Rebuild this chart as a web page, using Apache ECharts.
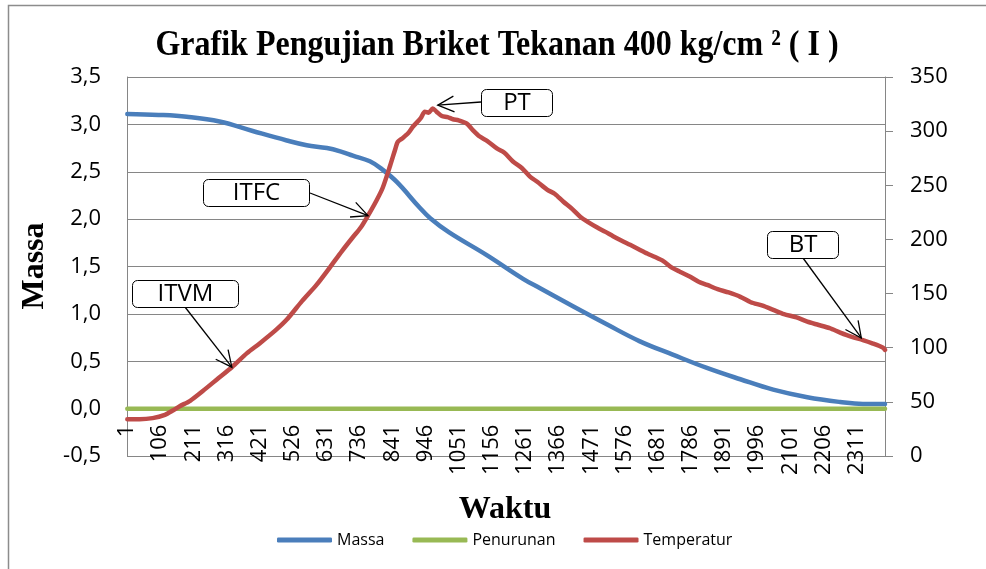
<!DOCTYPE html>
<html><head><meta charset="utf-8">
<script src="https://cdn.jsdelivr.net/npm/echarts@6/dist/echarts.min.js"></script>
<style>html,body{margin:0;padding:0;background:#fff}#c{width:986px;height:569px}</style>
</head><body><div id="c"></div>
<script>
// ---- data ----
const titleText = 'Grafik Pengujian Briket Tekanan 400 kg/cm \u00B2 ( I )';
const yAxisTitle = 'Massa';
const xAxisTitle = 'Waktu';
const seriesNames = ['Massa', 'Penurunan', 'Temperatur'];
const xTickLabels = ['1','106','211','316','421','526','631','736','841','946','1051','1156','1261','1366','1471','1576','1681','1786','1891','1996','2101','2206','2311'];
const leftTickLabels = ['-0,5','0,0','0,5','1,0','1,5','2,0','2,5','3,0','3,5'];
const rightTickLabels = ['0','50','100','150','200','250','300','350'];

const massaTime   = [1, 100, 189, 293, 398, 506, 569, 633, 680, 715, 769, 810, 855, 927, 960, 1020, 1139, 1254, 1308, 1412, 1519, 1624, 1728, 1836, 1942, 2046, 2154, 2258, 2330, 2400];
const massaValues = [3.11, 3.10, 3.08, 3.03, 2.93, 2.83, 2.78, 2.75, 2.71, 2.67, 2.61, 2.52, 2.39, 2.12, 2.01, 1.86, 1.62, 1.37, 1.27, 1.08, 0.89, 0.71, 0.57, 0.43, 0.31, 0.20, 0.12, 0.07, 0.05, 0.05];

const penurunanTime   = [1, 400, 800, 1200, 1600, 2000, 2400];
const penurunanValues = [0, 0, 0, 0, 0, 0, 0];

const tempTime = [1, 40, 81, 120, 145, 167, 200, 240, 290, 332, 380, 420, 470, 506, 554, 600, 642, 680, 715, 740, 763, 790, 810, 833, 850, 857, 870, 890, 905, 930, 943, 955, 968, 980, 997, 1015, 1032, 1050, 1076, 1095, 1117, 1140, 1171, 1195, 1222, 1250, 1276, 1300, 1330, 1355, 1381, 1410, 1435, 1460, 1489, 1515, 1539, 1565, 1593, 1620, 1647, 1670, 1698, 1725, 1752, 1780, 1810, 1837, 1870, 1905, 1942, 1975, 2010, 2046, 2080, 2120, 2154, 2190, 2225, 2258, 2295, 2330, 2360, 2394, 2400];
const tempValues = [34, 34, 35, 38, 42, 46, 51, 60, 72, 82, 95, 104, 116, 126, 143, 158, 174, 189, 202, 211, 222, 236, 248, 268, 284, 290, 293, 298, 304, 312, 318, 317, 321, 318, 314, 313, 311, 310, 307, 301, 295, 291, 284, 280, 272, 266, 258, 253, 246, 242, 235, 228, 221, 216, 211, 207, 203, 199, 195, 191, 187, 184, 180, 174, 170, 166, 161, 158, 154, 151, 147, 142, 139, 135, 131, 128, 124, 121, 118, 114, 110, 107, 104, 100, 98];

const annotationLabels  = ['PT', 'ITFC', 'ITVM', 'BT'];
const annotationTipTime = [984, 763, 332, 2325];
const annotationTipTemp = [324, 222, 82, 109];

// ---- chart ----
const zip = (a, b) => a.map((v, i) => [v, b[i]]);
const C_BLUE = '#4A7EBB', C_GREEN = '#98B954', C_RED = '#BE4B48', C_AXIS = '#868686';
const FONT = 'Open Sans';
const GRID_TOP = 77, GRID_BOTTOM = 113, H = 569;
const plotH = H - GRID_TOP - GRID_BOTTOM;
// the horizontal axis crosses the left value axis at 0 (0.5 units above the -0.5 minimum, of a 4-unit span)
const xAxisOffset = -plotH * (0 - (-0.5)) / (3.5 - (-0.5));
const chart = echarts.init(document.getElementById('c'), null, {renderer: 'canvas'});

const lineSeries = (name, data, color, yIdx, smooth) => ({
  name, type: 'line', data, yAxisIndex: yIdx, symbol: 'none', showSymbol: false, smooth,
  color, lineStyle: {color, width: 4.5, cap: 'round', join: 'round'},
  animation: false, silent: true
});

chart.setOption({
  animation: false,
  backgroundColor: '#fff',
  grid: {left: 127, right: 101, top: GRID_TOP, bottom: GRID_BOTTOM, containLabel: false},
  legend: {data: seriesNames, left: 272, top: 527, icon: 'roundRect', itemWidth: 55, itemHeight: 5, itemGap: 28,
    textStyle: {fontFamily: FONT, fontSize: 16, color: '#000'}},
  xAxis: {type: 'value', min: 0, max: 2400, interval: 105, position: 'bottom', offset: xAxisOffset,
    axisLine: {show: true, onZero: false, lineStyle: {color: C_AXIS, width: 1}},
    axisTick: {show: false}, splitLine: {show: false},
    axisLabel: {rotate: 90, margin: 16, fontFamily: FONT, fontSize: 22, color: '#000',
      showMaxLabel: false,
      formatter: v => { const k = Math.round(v / 105); return (Math.abs(v - k * 105) < 1e-6 && xTickLabels[k]) || ''; }}},
  yAxis: [
    {type: 'value', min: -0.5, max: 3.5, interval: 0.5, position: 'left',
      axisLine: {show: true, onZero: false, lineStyle: {color: C_AXIS, width: 1}}, axisTick: {show: false},
      splitLine: {show: true, lineStyle: {color: C_AXIS, width: 1}},
      axisLabel: {margin: 26, fontFamily: FONT, fontSize: 22, color: '#000',
        formatter: v => leftTickLabels[Math.round((v + 0.5) / 0.5)] || ''}},
    {type: 'value', min: 0, max: 350, interval: 50, position: 'right',
      axisLine: {show: true, onZero: false, lineStyle: {color: C_AXIS, width: 1}},
      axisTick: {show: true, length: 8, lineStyle: {color: C_AXIS, width: 1}},
      splitLine: {show: false},
      axisLabel: {margin: 25, fontFamily: FONT, fontSize: 22, color: '#000',
        formatter: v => rightTickLabels[Math.round(v / 50)] || ''}}
  ],
  series: [
    lineSeries(seriesNames[0], zip(massaTime, massaValues), C_BLUE, 0, 0.4),
    lineSeries(seriesNames[1], zip(penurunanTime, penurunanValues), C_GREEN, 0, false),
    lineSeries(seriesNames[2], zip(tempTime, tempValues), C_RED, 1, 0.25)
  ]
});

// ---- annotations & decorations ----
const boxLayout = [
  {x: 481, y: 89, w: 71, h: 27, ax: 481, ay: 102},
  {x: 203, y: 179, w: 106, h: 27, ax: 310, ay: 193},
  {x: 132, y: 280, w: 106, h: 27, ax: 185, ay: 307},
  {x: 767, y: 231, w: 71, h: 27, ax: 803, ay: 258}
];
const graphics = [
  {type: 'rect', shape: {x: 8.5, y: 5.5, width: 1000, height: 600}, style: {fill: 'none', stroke: '#8c8c8c', lineWidth: 1.5}, z: 0, silent: true},
  {type: 'text', x: 497, y: 45, scaleY: 1.15, style: {text: titleText, align: 'center', verticalAlign: 'middle',
    font: 'bold 32px "Liberation Serif"', fill: '#000'}, z: 10},
  {type: 'text', x: 35, y: 266, rotation: Math.PI / 2, style: {text: yAxisTitle, align: 'center', verticalAlign: 'middle',
    font: 'bold 32px "Liberation Serif"', fill: '#000'}, z: 10},
  {type: 'text', x: 505, y: 510, style: {text: xAxisTitle, align: 'center', verticalAlign: 'middle',
    font: 'bold 32px "Liberation Serif"', fill: '#000'}, z: 10}
];
annotationLabels.forEach((lab, i) => {
  const b = boxLayout[i];
  const tip = chart.convertToPixel({xAxisIndex: 0, yAxisIndex: 1}, [annotationTipTime[i], annotationTipTemp[i]]);
  const dx = b.ax - tip[0], dy = b.ay - tip[1];
  const L = Math.hypot(dx, dy), ux = dx / L, uy = dy / L;
  const arm = 18, ang = 0.45;
  const rot = (a) => [ux * Math.cos(a) - uy * Math.sin(a), ux * Math.sin(a) + uy * Math.cos(a)];
  const r1 = rot(ang), r2 = rot(-ang);
  graphics.push({type: 'line', shape: {x1: b.ax, y1: b.ay, x2: tip[0], y2: tip[1]}, style: {stroke: '#000', lineWidth: 1.3}, z: 20});
  graphics.push({type: 'polyline', shape: {points: [[tip[0] + r1[0] * arm, tip[1] + r1[1] * arm], tip, [tip[0] + r2[0] * arm, tip[1] + r2[1] * arm]]},
    style: {stroke: '#000', lineWidth: 1.3, fill: 'none'}, z: 20});
  graphics.push({type: 'rect', shape: {x: b.x + 0.5, y: b.y + 0.5, width: b.w, height: b.h, r: 5},
    style: {fill: '#fff', stroke: '#000', lineWidth: 1}, z: 21});
  graphics.push({type: 'text', x: b.x + b.w / 2 + 0.5, y: b.y + b.h / 2 + 1, style: {text: lab, align: 'center', verticalAlign: 'middle',
    font: '24px "Open Sans"', fill: '#000'}, z: 22});
});
chart.setOption({graphic: graphics});
</script>
</body></html>
